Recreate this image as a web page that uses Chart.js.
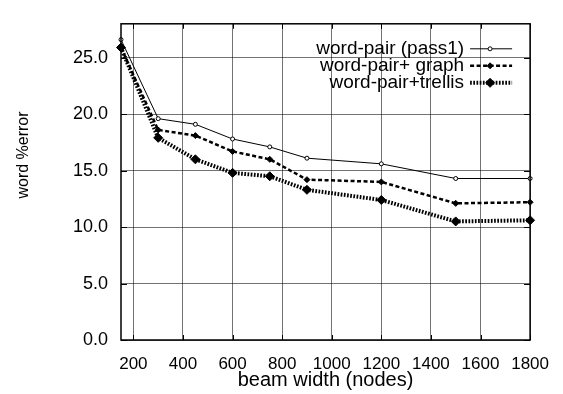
<!DOCTYPE html>
<html>
<head>
<meta charset="utf-8">
<script src="https://cdn.jsdelivr.net/npm/chart.js@4"></script>
<style>
  html, body { margin: 0; padding: 0; background: #fff; }
  #wrap { width: 563px; height: 394px; }
</style>
</head>
<body>
<div id="wrap"><canvas id="chart" width="563" height="394"></canvas></div>
<script>
// beam width vs word error rate
const beamWidths = [150, 300, 450, 600, 750, 900, 1200, 1500, 1800];
const pass1Err   = [26.6, 19.6, 19.1, 17.8, 17.1, 16.1, 15.6, 14.3, 14.3];
const graphErr   = [25.9, 18.6, 18.1, 16.7, 16.0, 14.2, 14.0, 12.1, 12.2];
const trellisErr = [25.9, 17.9, 16.0, 14.8, 14.5, 13.3, 12.4, 10.5, 10.6];
const seriesNames = ["word-pair (pass1)", "word-pair+ graph", "word-pair+trellis"];
const xTicks = [200, 400, 600, 800, 1000, 1200, 1400, 1600, 1800];
const yTicks = [0, 5, 10, 15, 20, 25];

const FONT = "'Liberation Sans', Arial, Helvetica, sans-serif";

function toPoints(ys) {
  return beamWidths.map((x, i) => ({ x: x, y: ys[i] }));
}

function marker(ctx, style, r, fill, x, y) {
  ctx.fillStyle = fill;
  ctx.strokeStyle = "#000";
  ctx.lineWidth = 1;
  ctx.beginPath();
  if (style === "circle") {
    ctx.arc(x, y, r, 0, Math.PI * 2);
  } else {
    ctx.moveTo(x, y - r);
    ctx.lineTo(x + r, y);
    ctx.lineTo(x, y + r);
    ctx.lineTo(x - r, y);
    ctx.closePath();
  }
  ctx.fill();
  ctx.stroke();
}

// frame, inward ticks, y title and a gnuplot-style key
const framePlugin = {
  id: "frame",
  afterDraw(chart) {
    const ctx = chart.ctx;
    const a = chart.chartArea;
    const xs = chart.scales.x, ys = chart.scales.y;
    ctx.save();
    ctx.strokeStyle = "#000";
    ctx.lineWidth = 1.5;
    ctx.setLineDash([]);
    ctx.strokeRect(a.left, a.top, a.right - a.left, a.bottom - a.top);
    ctx.lineWidth = 1;
    ctx.beginPath();
    xTicks.forEach(v => {
      const px = Math.round(xs.getPixelForValue(v)) + 0.5;
      ctx.moveTo(px, a.bottom); ctx.lineTo(px, a.bottom - 5);
      ctx.moveTo(px, a.top); ctx.lineTo(px, a.top + 5);
    });
    yTicks.forEach(v => {
      const py = Math.round(ys.getPixelForValue(v)) + 0.5;
      ctx.moveTo(a.left, py); ctx.lineTo(a.left + 6, py);
      ctx.moveTo(a.right, py); ctx.lineTo(a.right - 6, py);
    });
    ctx.stroke();

    // y axis title
    ctx.fillStyle = "#000";
    ctx.font = "16px " + FONT;
    ctx.textAlign = "center";
    ctx.textBaseline = "middle";
    ctx.translate(24, 155);
    ctx.rotate(-Math.PI / 2);
    ctx.fillText("word %error", 0, 0);
    ctx.restore();

    // key
    ctx.save();
    chart.data.datasets.forEach((ds, i) => {
      const y = a.top + 25 + i * 17;
      ctx.fillStyle = "#000";
      ctx.font = "19px " + FONT;
      ctx.textAlign = "right";
      ctx.textBaseline = "middle";
      ctx.fillText(ds.label, a.right - 66, y);
      ctx.strokeStyle = "#000";
      ctx.lineWidth = ds.borderWidth;
      ctx.setLineDash(ds.borderDash || []);
      ctx.beginPath();
      ctx.moveTo(a.right - 60, y);
      ctx.lineTo(a.right - 18, y);
      ctx.stroke();
      ctx.setLineDash([]);
      marker(ctx, ds.pointStyle, ds.pointRadius, ds.pointBackgroundColor, a.right - 40, y);
    });
    ctx.restore();
  }
};

new Chart(document.getElementById("chart"), {
  type: "line",
  data: {
    datasets: [
      {
        label: seriesNames[0],
        data: toPoints(pass1Err),
        borderColor: "#000",
        borderWidth: 1,
        pointStyle: "circle",
        pointRadius: 2,
        pointBackgroundColor: "#fff",
        pointBorderColor: "#000",
        pointBorderWidth: 1
      },
      {
        label: seriesNames[1],
        data: toPoints(graphErr),
        borderColor: "#000",
        borderWidth: 2.5,
        borderDash: [4, 2.5],
        pointStyle: "rectRot",
        pointRadius: 3,
        pointBackgroundColor: "#000",
        pointBorderColor: "#000",
        pointBorderWidth: 1
      },
      {
        label: seriesNames[2],
        data: toPoints(trellisErr),
        borderColor: "#000",
        borderWidth: 4,
        borderDash: [1.7, 1.5],
        pointStyle: "rectRot",
        pointRadius: 4.5,
        pointBackgroundColor: "#000",
        pointBorderColor: "#000",
        pointBorderWidth: 1
      }
    ]
  },
  options: {
    responsive: false,
    animation: false,
    clip: false,
    layout: { padding: { left: 0, right: 31, top: 7, bottom: 0 } },
    elements: { line: { tension: 0 } },
    plugins: {
      legend: { display: false },
      tooltip: { enabled: false }
    },
    scales: {
      x: {
        type: "linear",
        min: 150,
        max: 1800,
        afterFit: s => { s.height = 54; },
        afterBuildTicks: s => { s.ticks = xTicks.map(v => ({ value: v })); },
        grid: { color: "rgba(0,0,0,0.55)", borderDash: [1, 2], drawTicks: false },
        border: { display: false },
        ticks: {
          color: "#000",
          font: { family: FONT, size: 17 },
          padding: 14,
          maxRotation: 0,
          autoSkip: false,
          callback: v => String(v)
        },
        title: {
          display: true,
          text: "beam width (nodes)",
          color: "#000",
          font: { family: FONT, size: 20 },
          padding: { top: 0, bottom: 2 }
        }
      },
      y: {
        min: 0,
        max: 28,
        afterFit: s => { s.width = 121; },
        afterBuildTicks: s => { s.ticks = yTicks.map(v => ({ value: v })); },
        grid: { color: "rgba(0,0,0,0.55)", borderDash: [1, 2], drawTicks: false },
        border: { display: false },
        ticks: {
          color: "#000",
          font: { family: FONT, size: 18 },
          padding: 13,
          callback: v => v.toFixed(1)
        }
      }
    }
  },
  plugins: [framePlugin]
});
</script>
</body>
</html>
